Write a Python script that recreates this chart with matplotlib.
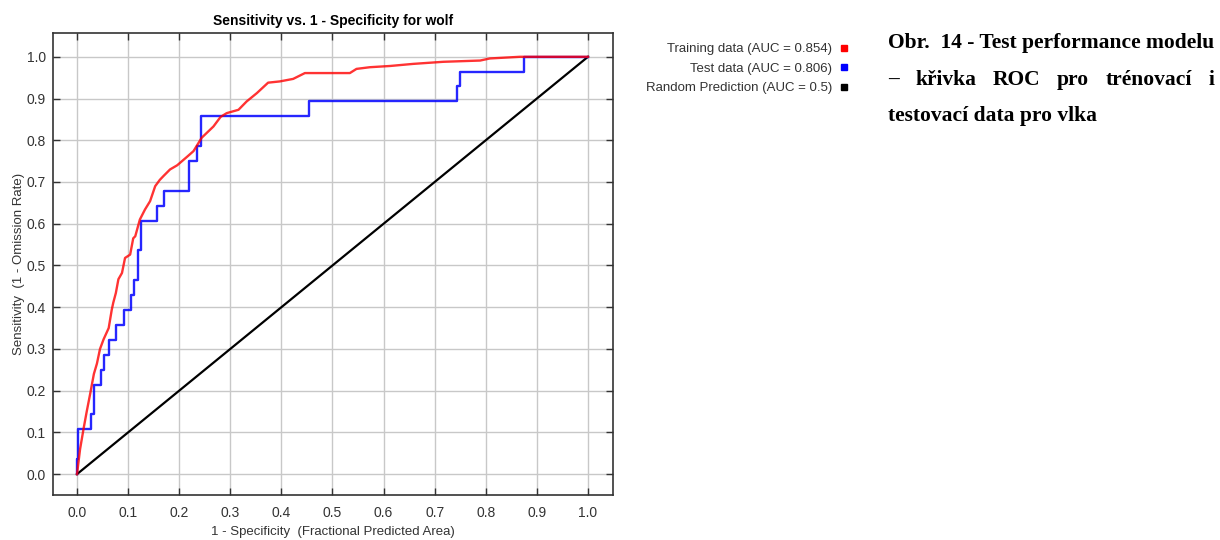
import matplotlib
matplotlib.use('Agg')
import matplotlib.pyplot as plt
from matplotlib.lines import Line2D

plt.rcParams['font.family'] = ['Liberation Sans', 'DejaVu Sans']

# training data ROC (1 - specificity, sensitivity)
train_fpr = [0.000, 0.006, 0.013, 0.019, 0.026, 0.033, 0.039, 0.045, 0.052, 0.062,
             0.068, 0.071, 0.076, 0.081, 0.088, 0.094, 0.104, 0.110, 0.114, 0.123,
             0.133, 0.143, 0.153, 0.162, 0.169, 0.182, 0.196, 0.215, 0.228, 0.244,
             0.267, 0.281, 0.293, 0.316, 0.332, 0.352, 0.374, 0.397, 0.423, 0.446,
             0.534, 0.547, 0.573, 0.613, 0.658, 0.717, 0.789, 0.808, 0.867, 1.000]
train_tpr = [0.000, 0.060, 0.110, 0.150, 0.194, 0.240, 0.265, 0.300, 0.323, 0.350,
             0.394, 0.411, 0.434, 0.467, 0.482, 0.518, 0.526, 0.565, 0.570, 0.610,
             0.634, 0.654, 0.690, 0.705, 0.714, 0.730, 0.740, 0.760, 0.774, 0.806,
             0.833, 0.856, 0.865, 0.873, 0.893, 0.913, 0.938, 0.941, 0.947, 0.961,
             0.961, 0.971, 0.975, 0.978, 0.983, 0.988, 0.991, 0.996, 1.000, 1.000]

# test data ROC (step corners)
test_fpr = [0.000, 0.000, 0.002, 0.027, 0.033, 0.046, 0.053, 0.062, 0.076, 0.091,
            0.105, 0.112, 0.119, 0.126, 0.156, 0.171, 0.219, 0.235, 0.242, 0.455,
            0.744, 0.750, 0.874, 1.000]
test_tpr = [0.000, 0.036, 0.107, 0.143, 0.214, 0.250, 0.286, 0.321, 0.357, 0.393,
            0.429, 0.464, 0.536, 0.607, 0.643, 0.679, 0.750, 0.786, 0.857, 0.893,
            0.929, 0.964, 1.000, 1.000]

random_x = [0.0, 1.0]
random_y = [0.0, 1.0]

labels = ['Training data (AUC = 0.854)', 'Test data (AUC = 0.806)',
          'Random Prediction (AUC = 0.5)']
colors = ['#ff0000', '#0000ff', '#000000']
ticks = [i / 10 for i in range(11)]

caption1 = 'Obr.  14 - Test performance modelu'
caption2 = ['–', 'křivka', 'ROC', 'pro', 'trénovací', 'i']
caption3 = 'testovací data pro vlka'

fig = plt.figure(figsize=(12.2, 5.4), dpi=100)
ax = fig.add_axes([53 / 1220, 1 - 495 / 540, (613 - 53) / 1220, (495 - 33) / 540])

ax.plot(random_x, random_y, color=colors[2], lw=1.6, zorder=3)
ax.plot(test_fpr, test_tpr, color=colors[1], lw=1.7, drawstyle='steps-post',
        alpha=0.85, zorder=4)
ax.plot(train_fpr, train_tpr, color=colors[0], lw=1.7, alpha=0.8, zorder=5)

ax.set_xlim(-0.047, 1.049)
ax.set_ylim(-0.05, 1.057)
ax.set_xticks(ticks)
ax.set_yticks(ticks)
ax.set_xticklabels(['%.1f' % t for t in ticks])
ax.set_yticklabels(['%.1f' % t for t in ticks])
ax.grid(True, color='#c8c8c8', lw=1.0)
ax.set_axisbelow(True)
ax.tick_params(direction='in', length=5, width=1, color='#333333',
               top=True, right=True, labelsize=10, labelcolor='#333333')
ax.tick_params(axis='x', pad=8)
ax.tick_params(axis='y', pad=5)
for s in ax.spines.values():
    s.set_color('#333333')
    s.set_linewidth(1.2)

ax.set_title('Sensitivity vs. 1 - Specificity for wolf', fontsize=10,
             fontweight='bold', pad=6)
ax.set_xlabel('1 - Specificity  (Fractional Predicted Area)', fontsize=9.5,
              color='#333333', labelpad=4)
ax.set_ylabel('Sensitivity  (1 - Omission Rate)', fontsize=9.5,
              color='#333333', labelpad=1)

handles = [Line2D([], [], ls='none', marker='s', markersize=4.5, color=c) for c in colors]
fig.legend(handles, labels, loc='upper right', bbox_to_anchor=(848 / 1220, 1 - 43 / 540),
           frameon=False, markerfirst=False, fontsize=9.5, handlelength=0.6,
           handletextpad=0.6, labelspacing=0.55, borderpad=0, borderaxespad=0,
           labelcolor='#333333')

serif = ['Liberation Serif', 'DejaVu Serif']
x0 = 888 / 1220
t1 = fig.text(x0, 1 - 48 / 540, caption1, family=serif, fontweight='bold',
              fontsize=15.5, va='baseline')
fig.text(x0, 1 - 121 / 540, caption3, family=serif, fontweight='bold',
         fontsize=15.5, va='baseline')

# justify the middle line to the width of the first line
fig.canvas.draw()
r = fig.canvas.get_renderer()
b1 = t1.get_window_extent(r)
words = [fig.text(0, 1 - 85 / 540, w, family=serif, fontweight='bold',
                  fontsize=15.5, va='baseline') for w in caption2]
widths = [w.get_window_extent(r).width for w in words]
gap = (b1.width - sum(widths)) / (len(words) - 1)
pos = b1.x0
for w, wd in zip(words, widths):
    w.set_x(pos / fig.bbox.width)
    pos += wd + gap

fig.savefig('out.png', dpi=100)
